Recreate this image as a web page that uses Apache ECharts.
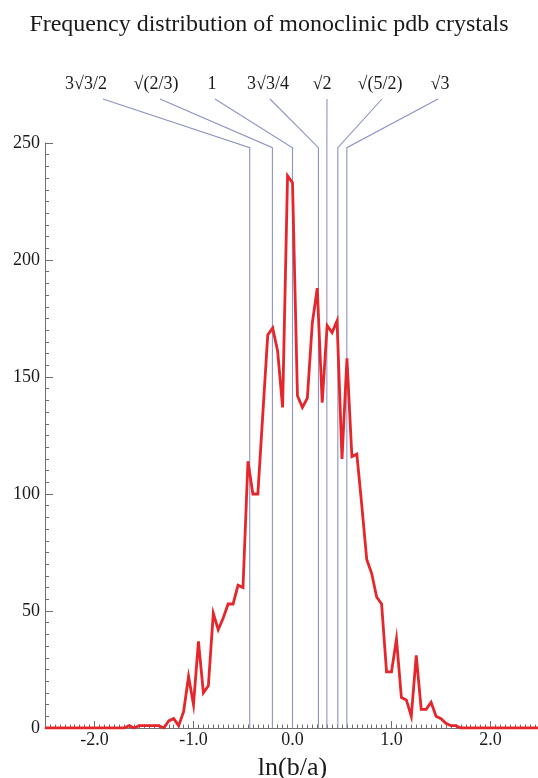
<!DOCTYPE html>
<html>
<head>
<meta charset="utf-8">
<script src="https://cdn.jsdelivr.net/npm/echarts@6/dist/echarts.min.js"></script>
<style>
  html, body { margin: 0; padding: 0; background: #ffffff; }
  #chart { width: 538px; height: 778px; }
</style>
</head>
<body>
<div id="chart"></div>
<script>
// Histogram of ln(b/a) for monoclinic cells (bin centres, counts per bin)
const lnRatio = [-2.5, -1.75, -1.70, -1.65, -1.60, -1.55, -1.50, -1.45, -1.40, -1.35,
  -1.30, -1.25, -1.20, -1.15, -1.10, -1.05, -1.00, -0.95, -0.90, -0.85,
  -0.80, -0.75, -0.70, -0.65, -0.60, -0.55, -0.50, -0.45, -0.40, -0.35,
  -0.30, -0.25, -0.20, -0.15, -0.10, -0.05, 0.00, 0.05, 0.10, 0.15,
  0.20, 0.25, 0.30, 0.35, 0.40, 0.45, 0.50, 0.55, 0.60, 0.65,
  0.70, 0.75, 0.80, 0.85, 0.90, 0.95, 1.00, 1.05, 1.10, 1.15,
  1.20, 1.25, 1.30, 1.35, 1.40, 1.45, 1.50, 1.55, 1.60, 1.65,
  1.70, 1.75, 2.5];
const counts = [0, 0, 0, 1, 0, 1, 1, 1, 1, 1,
  0, 3, 4, 1, 7, 22, 10, 37, 15, 18,
  49, 42, 47, 53, 53, 61, 60, 114, 100, 100,
  134, 168, 171, 161, 137, 236, 233, 142, 137, 141,
  173, 188, 139, 172, 169, 174, 115, 158, 116, 117,
  95, 72, 66, 56, 53, 24, 24, 38, 13, 12,
  5, 31, 8, 8, 11, 5, 4, 2, 1, 1,
  0, 0, 0];

// Special axis ratios b/a, marked by vertical guide lines (positions in ln units)
const ratioLabels = ['3\u221A3/2', '\u221A(2/3)', '1', '3\u221A3/4', '\u221A2', '\u221A(5/2)', '\u221A3'];
const ratioLn = [-0.432, -0.203, 0.0, 0.262, 0.347, 0.458, 0.549];

// Axis ticks
const xMajorTicks = [-2, -1, 0, 1, 2];
const yTicks = [0, 50, 100, 150, 200, 250];

// Layout of the guide labels above the plot (pixels)
const labelCenters = [86, 156, 212, 268, 322, 380, 440];
const leaderStart = [103, 160, 215, 270, 327, 382, 438];
const labelY = 84;
const leaderTopY = 99;
const elbowValue = 248;

const xMinorTicks = [];
for (let k = -50; k <= 50; k++) xMinorTicks.push(+(k * 0.05).toFixed(2));

const serif = '"Liberation Serif", "DejaVu Serif", serif';
const axisGray = '#6f6f6f';
const guideColor = '#8d93c6';

const chart = echarts.init(document.getElementById('chart'), null, { renderer: 'canvas' });

const curve = lnRatio.map((x, i) => [x, counts[i]]);
const guides = ratioLn.map((x, i) => [x, i]);

chart.setOption({
  animation: false,
  backgroundColor: '#ffffff',
  title: {
    text: 'Frequency distribution of monoclinic pdb crystals',
    left: 'center',
    top: 8,
    textStyle: { fontFamily: serif, fontSize: 24, fontWeight: 'normal', color: '#1a1a1a' }
  },
  grid: { left: 45, right: -2, top: 143, bottom: 50, outerBoundsMode: 'none', containLabel: false },
  xAxis: [
    {
      type: 'value', min: -2.5, max: 2.5,
      axisLine: { show: true, onZero: false, lineStyle: { color: axisGray, width: 1 } },
      axisTick: { show: true, inside: true, length: 7, customValues: xMajorTicks, lineStyle: { color: axisGray } },
      axisLabel: {
        show: true, customValues: xMajorTicks, margin: 3,
        formatter: v => v.toFixed(1),
        fontFamily: serif, fontSize: 18, color: '#1a1a1a'
      },
      splitLine: { show: false },
      name: 'ln(b/a)', nameLocation: 'middle', nameGap: 27,
      nameTextStyle: { fontFamily: serif, fontSize: 26, color: '#1a1a1a' }
    },
    {
      type: 'value', min: -2.5, max: 2.5, position: 'bottom',
      axisLine: { show: false },
      axisTick: { show: true, inside: true, length: 3.5, customValues: xMinorTicks, lineStyle: { color: axisGray } },
      axisLabel: { show: false },
      splitLine: { show: false }
    }
  ],
  yAxis: {
    type: 'value', min: 0, max: 250, interval: 50,
    axisLine: { show: true, onZero: false, lineStyle: { color: axisGray, width: 1 } },
    axisTick: { show: true, inside: true, length: 8, lineStyle: { color: axisGray } },
    minorTick: { show: true, splitNumber: 10, length: 4, lineStyle: { color: axisGray } },
    axisLabel: {
      margin: 5, fontFamily: serif, fontSize: 18, color: '#1a1a1a',
      customValues: yTicks
    },
    splitLine: { show: false },
    minorSplitLine: { show: false }
  },
  series: [
    {
      type: 'custom',
      name: 'guides',
      coordinateSystem: 'cartesian2d',
      clip: false,
      z: 1,
      encode: { x: 0, y: 1 },
      data: guides,
      renderItem: function (params, api) {
        const x = api.value(0);
        const i = api.value(1);
        const base = api.coord([x, 0]);
        const elbow = api.coord([x, elbowValue]);
        return {
          type: 'group',
          children: [
            {
              type: 'polyline',
              shape: { points: [base, elbow, [leaderStart[i], leaderTopY]] },
              style: { stroke: guideColor, lineWidth: 1.1, fill: null }
            },
            {
              type: 'text',
              style: {
                text: ratioLabels[i], x: labelCenters[i], y: labelY,
                align: 'center', verticalAlign: 'middle',
                font: '18px ' + serif, fill: '#1a1a1a'
              }
            }
          ]
        };
      }
    },
    {
      type: 'line',
      name: 'count',
      xAxisIndex: 0,
      data: curve,
      showSymbol: false,
      symbol: 'none',
      z: 3,
      lineStyle: { color: '#e5262b', width: 2.8, join: 'miter' }
    }
  ]
});
</script>
</body>
</html>
